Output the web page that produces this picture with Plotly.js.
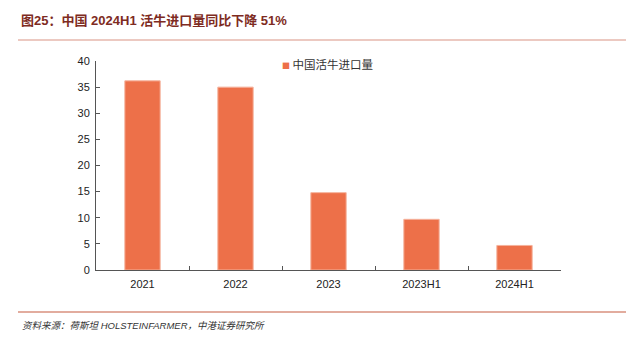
<!DOCTYPE html>
<html>
<head>
<meta charset="utf-8">
<script src="https://cdn.plot.ly/plotly-3.0.1.min.js"></script>
<style>html,body{margin:0;padding:0;background:#fff;}#chart{width:626px;height:345px;}</style>
</head>
<body>
<div id="chart"></div>
<script>
const categories = ["2021", "2022", "2023", "2023H1", "2024H1"];
const imports = [36.2, 35.0, 14.8, 9.7, 4.7];
const yTicks = [0, 5, 10, 15, 20, 25, 30, 35, 40];
const seriesName = "中国活牛进口量";
const chartTitle = "图25：中国 2024H1 活牛进口量同比下降 51%";
const sourceText = "资料来源：荷斯坦 HOLSTEINFARMER，中港证券研究所";

const barColor = "#ED7049";
const fontFam = "'Liberation Sans', Arial, 'Noto Sans CJK SC', sans-serif";
const W = 626, H = 345, L = 96, R = 65, T = 61, B = 75;
const pw = W - L - R, ph = H - T - B;
const px = x => (x - L) / pw;
const py = y => (H - B - y) / ph;

const trace = {
  type: "bar",
  x: categories,
  y: imports,
  name: seriesName,
  marker: { color: barColor, line: { color: "#F5B29C", width: 1 } },
  showlegend: false
};

const layout = {
  width: W, height: H,
  margin: { l: L, r: R, t: T, b: B },
  paper_bgcolor: "#fff", plot_bgcolor: "#fff",
  bargap: 0.62,
  font: { family: fontFam, size: 11, color: "#222" },
  title: {
    text: "<b>" + chartTitle + "</b>",
    x: 21 / W, xanchor: "left", xref: "container",
    y: 1 - 20 / H, yanchor: "middle", yref: "container",
    font: { family: "'Liberation Sans', 'Noto Sans CJK SC', sans-serif", size: 13, color: "#7E2B22" }
  },
  xaxis: {
    type: "category",
    showline: true, linecolor: "#555", linewidth: 1,
    ticks: "inside", tickson: "boundaries", ticklen: 4, tickcolor: "#555",
    showgrid: false, zeroline: false,
    ticklabelstandoff: 4,
    tickfont: { size: 11, color: "#222" }
  },
  yaxis: {
    range: [0, 40],
    tickvals: yTicks,
    showline: true, linecolor: "#555", linewidth: 1,
    ticks: "inside", ticklen: 4, tickcolor: "#555",
    showgrid: false, zeroline: false,
    ticklabelstandoff: 3,
    tickfont: { size: 11, color: "#222" }
  },
  shapes: [
    { type: "line", xref: "paper", yref: "paper", x0: px(18), x1: px(626), y0: py(40), y1: py(40),
      line: { color: "#D99384", width: 1.2 } },
    { type: "line", xref: "paper", yref: "paper", x0: px(18), x1: px(626), y0: py(312), y1: py(312),
      line: { color: "#C55A3F", width: 1.2 } }
  ],
  annotations: [
    { text: "<span style='color:" + barColor + ";font-size:8px'>■</span> " + seriesName, xref: "paper", yref: "paper",
      x: px(280), y: py(64), xanchor: "left", yanchor: "middle", showarrow: false,
      font: { family: "'Noto Sans CJK SC', sans-serif", size: 11.5, color: "#333" } },
    { text: "<i>" + sourceText + "</i>", xref: "paper", yref: "paper",
      x: px(20), y: py(325), xanchor: "left", yanchor: "middle", showarrow: false,
      font: { family: "'Liberation Sans', 'Noto Sans CJK SC', sans-serif", size: 9.5, color: "#333" } }
  ]
};

Plotly.newPlot("chart", [trace], layout, { displayModeBar: false, staticPlot: true });
</script>
</body>
</html>
